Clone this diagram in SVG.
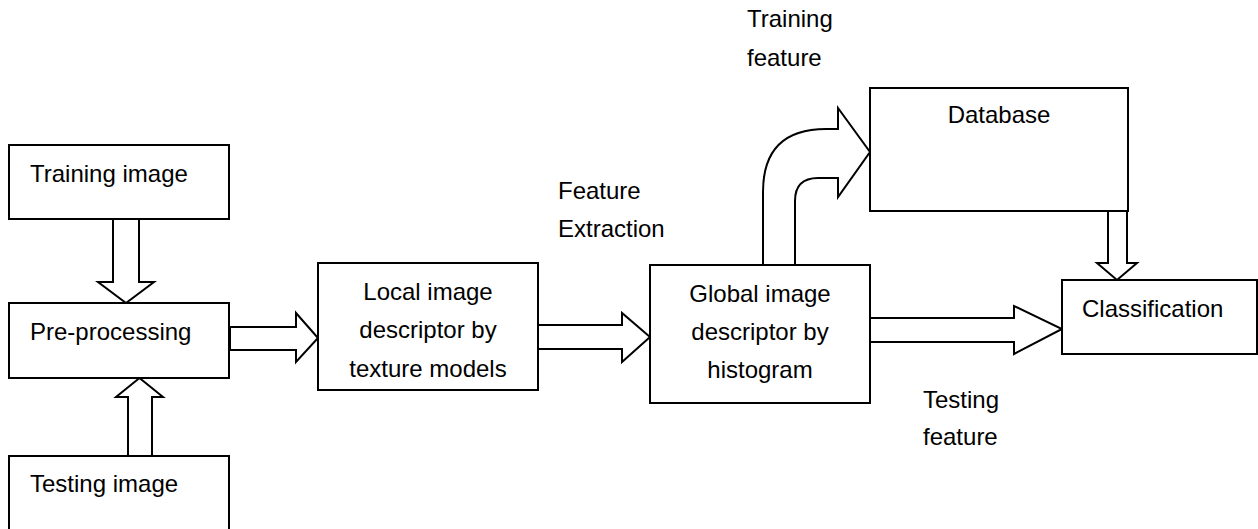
<svg xmlns="http://www.w3.org/2000/svg" width="1258" height="529" viewBox="0 0 1258 529">
<style>
.box{fill:#fff;stroke:#000;stroke-width:2}
.arr{fill:#fff;stroke:#000;stroke-width:2;stroke-linejoin:miter}
text{font-family:"Liberation Sans",Arial,sans-serif;font-size:24px;fill:#000}
.c{text-anchor:middle}
</style>
<rect width="1258" height="529" fill="#fff"/>
<g id="connectors">
<path class="arr" d="M113,219 V282 H98 L126,303 L154,282 H139 V219 Z"/>
<path class="arr" d="M128,456 V397 H116 L139.5,378 L163,397 H152 V456 Z"/>
<path class="arr" d="M230,327 H296 V313 L318,338 L296,362 V350 H230 Z"/>
<path class="arr" d="M538,325 H622 V313 L650,337 L622,362 V349 H538 Z"/>
<path class="arr" d="M870,318 H1014 V306 L1062,329 L1014,354 V342 H870 Z"/>
<path class="arr" d="M1108,211 V263 H1097 L1117,280 L1137,263 H1127 V211 Z"/>
<path class="arr" d="M763,265 V192 Q763,129 826,129 H838 V108 L870,152 L838,197 V178 H818 Q795,178 795,201 V265 Z"/>
</g>
<g id="training-image"><rect class="box" x="9" y="145" width="220" height="74"/><text x="30" y="182">Training image</text></g>
<g id="pre-processing"><rect class="box" x="9" y="303" width="220" height="75"/><text x="30" y="340">Pre-processing</text></g>
<g id="testing-image"><rect class="box" x="9" y="456" width="220" height="90"/><text x="30" y="492">Testing image</text></g>
<g id="local-descriptor"><rect class="box" x="318" y="263" width="220" height="127"/><text class="c" x="428" y="300">Local image</text><text class="c" x="428" y="338">descriptor by</text><text class="c" x="428" y="377">texture models</text></g>
<g id="global-descriptor"><rect class="box" x="650" y="265" width="220" height="138"/><text class="c" x="760" y="302">Global image</text><text class="c" x="760" y="340">descriptor by</text><text class="c" x="760" y="378">histogram</text></g>
<g id="database"><rect class="box" x="870" y="88" width="258" height="123"/><text class="c" x="999" y="123">Database</text></g>
<g id="classification"><rect class="box" x="1062" y="280" width="195" height="74"/><text x="1082" y="317">Classification</text></g>
<g id="labels">
<text x="747" y="27">Training</text><text x="747" y="66">feature</text>
<text x="558" y="199">Feature</text><text x="558" y="237">Extraction</text>
<text x="923" y="408">Testing</text><text x="923" y="445">feature</text>
</g>
</svg>
